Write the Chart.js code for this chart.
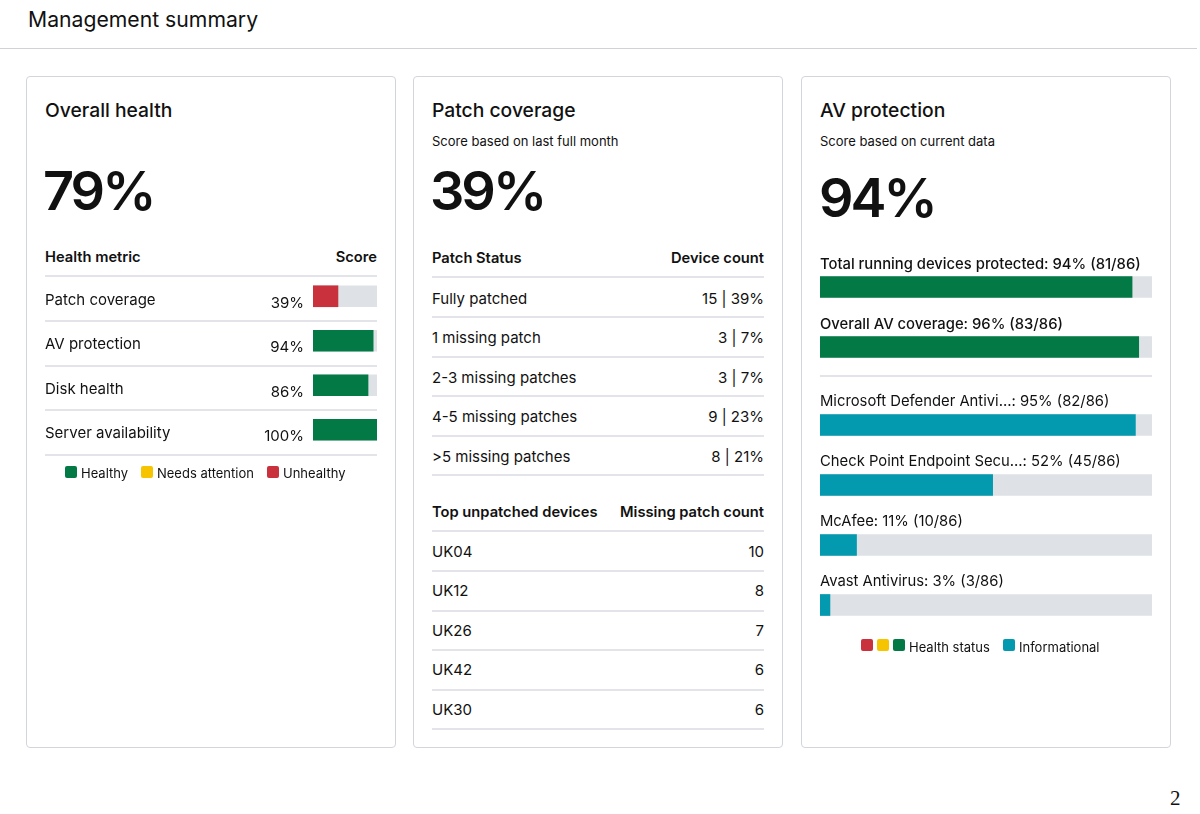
<!DOCTYPE html>
<html>
<head>
<meta charset="utf-8">
<title>Management summary</title>
<script src="https://cdn.jsdelivr.net/npm/chart.js@4.4.0/dist/chart.umd.min.js"></script>
<style>
  body { margin: 0; width: 1200px; height: 814px; position: relative; background: #fff;
         font-family: Inter, "Noto Sans", sans-serif; color: #111; overflow: hidden; }
  .t { position: absolute; white-space: nowrap; }
  .r { transform: translateX(-100%); }
  .big { letter-spacing: -3px; }
  .line { position: absolute; height: 2px; background: #e2e4e9; }
  .card { position: absolute; top: 76px; width: 368px; height: 670px; border: 1px solid #d3d5dc; border-radius: 4px; }
  .sw { position: absolute; width: 12px; height: 12px; border-radius: 2px; }
  canvas { position: absolute; }
</style>
</head>
<body>
<div class="card" style="left:26px"></div>
<div class="card" style="left:413px"></div>
<div class="card" style="left:801px"></div>
<div class="line" style="left:0;top:48px;width:1197px;height:1px;background:#d0d2d8"></div>
<canvas id="healthChart" width="64" height="178" style="left:313px;top:274px"></canvas>
<canvas id="avSummaryChart" width="332" height="140" style="left:820px;top:237px"></canvas>
<canvas id="avProductChart" width="332" height="260" style="left:820px;top:375px"></canvas>
<script>
// Overall health
const healthMetrics = ['Patch coverage', 'AV protection', 'Disk health', 'Server availability'];
const healthScores = [39, 94, 86, 100];
const healthStatus = ['unhealthy', 'healthy', 'healthy', 'healthy'];
const overallHealth = 79;

// Patch coverage
const patchScore = 39;
const patchStatus = ['Fully patched', '1 missing patch', '2-3 missing patches', '4-5 missing patches', '>5 missing patches'];
const patchDevices = [15, 3, 3, 9, 8];
const patchPercent = [39, 7, 7, 23, 21];
const topDevices = ['UK04', 'UK12', 'UK26', 'UK42', 'UK30'];
const topMissing = [10, 8, 7, 6, 6];

// AV protection
const avScore = 94;
const avTotal = 86;
const avSummaryLabels = ['Total running devices protected', 'Overall AV coverage'];
const avSummaryPct = [94, 96];
const avSummaryCount = [81, 83];
const avProducts = ['Microsoft Defender Antivi...', 'Check Point Endpoint Secu...', 'McAfee', 'Avast Antivirus'];
const avProductPct = [95, 52, 11, 3];
const avProductCount = [82, 45, 10, 3];

const trackMax = 100;
const colors = { healthy: '#037a46', attention: '#f6c400', unhealthy: '#c9313d', info: '#0399ae', track: '#dee2e6' };

// text helper: x = left (or right edge if right=true), cy = vertical centre
function txt(x, cy, str, size, weight, right, cls) {
  const d = document.createElement('div');
  d.className = 't' + (right ? ' r' : '') + (cls ? ' ' + cls : '');
  const lh = Math.round(size * 1.25);
  d.style.cssText = `left:${x}px;top:${cy - lh / 2}px;font-size:${size}px;line-height:${lh}px;font-weight:${weight || 400}`;
  d.textContent = str;
  document.body.appendChild(d);
  return d;
}
function hline(x, y, w) {
  const d = document.createElement('div');
  d.className = 'line';
  d.style.left = x + 'px'; d.style.top = (y - 1) + 'px'; d.style.width = w + 'px';
  document.body.appendChild(d);
}
function swatch(x, cy, color) {
  const d = document.createElement('div');
  d.className = 'sw';
  d.style.left = x + 'px'; d.style.top = (cy - 6) + 'px'; d.style.background = color;
  document.body.appendChild(d);
}

txt(28, 19, 'Management summary', 21.2, 400);
const p = document.createElement('div');
p.className = 't';
p.style.cssText = 'left:1170px;top:788px;font-family:"Liberation Serif",serif;font-size:21px;line-height:21px';
p.textContent = '2';
document.body.appendChild(p);

// card 1
txt(45, 110, 'Overall health', 19.3, 500);
txt(43, 190.5, overallHealth + '%', 54, 600, false, 'big');
txt(45, 257, 'Health metric', 14.7, 600);
txt(377, 257, 'Score', 14.7, 600, true);
hline(45, 276, 332);
healthMetrics.forEach((m, i) => {
  txt(45, 299 + i * 44.5, m, 15, 400);
  txt(304, 302 + i * 44.5, healthScores[i] + '%', 15, 400, true);
  hline(45, 321 + i * 44.5, 332);
});
swatch(65, 472, colors.healthy); txt(81, 473, 'Healthy', 13);
swatch(141, 472, colors.attention); txt(157, 473, 'Needs attention', 13);
swatch(267, 472, colors.unhealthy); txt(283, 473, 'Unhealthy', 13);

// card 2
txt(432, 110, 'Patch coverage', 19.3, 500);
txt(432, 141, 'Score based on last full month', 13, 400);
txt(430, 190.5, patchScore + '%', 54, 600, false, 'big');
txt(432, 258, 'Patch Status', 14.7, 600);
txt(764, 258, 'Device count', 14.7, 600, true);
hline(432, 277, 332);
patchStatus.forEach((s, i) => {
  txt(432, 298 + i * 39.5, s, 15, 400);
  txt(764, 298 + i * 39.5, patchDevices[i] + ' | ' + patchPercent[i] + '%', 15, 400, true);
  hline(432, 317 + i * 39.5, 332);
});
txt(432, 512, 'Top unpatched devices', 14.7, 600);
txt(764, 512, 'Missing patch count', 14.7, 600, true);
hline(432, 531, 332);
topDevices.forEach((d, i) => {
  txt(432, 551 + i * 39.6, d, 15, 400);
  txt(764, 551 + i * 39.6, String(topMissing[i]), 15, 400, true);
  hline(432, 571 + i * 39.6, 332);
});

// card 3
txt(820, 110, 'AV protection', 19.3, 500);
txt(820, 141, 'Score based on current data', 13, 400);
txt(819, 197.5, avScore + '%', 54, 600, false, 'big');
hline(820, 376, 332);
swatch(861, 645, colors.unhealthy);
swatch(877, 645, colors.attention);
swatch(893, 645, colors.healthy);
txt(909, 647, 'Health status', 13);
swatch(1003, 645, colors.info);
txt(1019, 647, 'Informational', 13);

// draws the label text above each bar
const barLabels = {
  id: 'barLabels',
  afterDatasetsDraw(chart, args, opts) {
    if (!opts.texts) return;
    const c = chart.ctx;
    const meta = chart.getDatasetMeta(0);
    c.save();
    c.font = opts.font;
    c.fillStyle = '#111';
    c.textBaseline = 'middle';
    meta.data.forEach((bar, i) => {
      c.fillText(opts.texts[i], chart.chartArea.left, bar.y - opts.offset);
    });
    c.restore();
  }
};

function barChart(id, labels, values, barColors, padTop, labelOpts) {
  return new Chart(document.getElementById(id), {
    type: 'bar',
    data: {
      labels: labels,
      datasets: [
        { data: values, backgroundColor: barColors, barThickness: 21, grouped: false, order: 0 },
        { data: labels.map(() => trackMax), backgroundColor: colors.track, barThickness: 21, grouped: false, order: 1 }
      ]
    },
    options: {
      indexAxis: 'y',
      responsive: false,
      animation: false,
      layout: { padding: { top: padTop, left: 0, right: 0, bottom: 0 } },
      scales: {
        x: { display: false, min: 0, max: trackMax },
        y: { display: false }
      },
      plugins: { legend: { display: false }, tooltip: { enabled: false }, barLabels: labelOpts || {} }
    },
    plugins: [barLabels]
  });
}

barChart('healthChart', healthMetrics, healthScores, healthStatus.map(s => colors[s]), 0);

barChart('avSummaryChart', avSummaryLabels, avSummaryPct, colors.healthy, 20, {
  font: '500 14.8px Inter',
  offset: 22.5,
  texts: avSummaryLabels.map((l, i) => `${l}: ${avSummaryPct[i]}% (${avSummaryCount[i]}/${avTotal})`)
});

barChart('avProductChart', avProducts, avProductPct, colors.info, 20, {
  font: '400 14.8px Inter',
  offset: 23.5,
  texts: avProducts.map((l, i) => `${l}: ${avProductPct[i]}% (${avProductCount[i]}/${avTotal})`)
});
</script>
</body>
</html>
